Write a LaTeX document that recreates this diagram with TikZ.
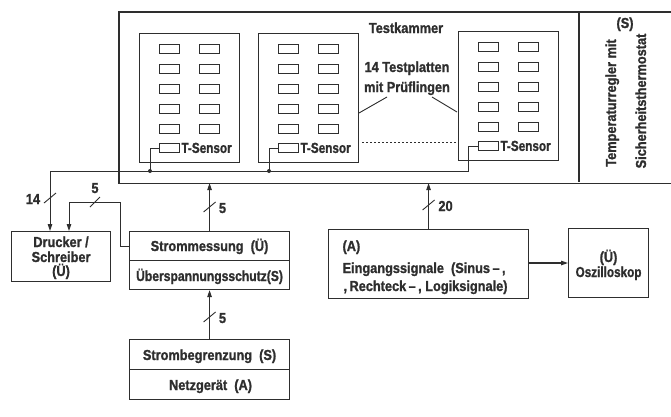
\documentclass[tikz,border=0pt]{standalone}
\usepackage{fontspec}
\setmainfont{Liberation Sans}[FakeStretch=0.88,BoldFeatures={FakeBold=1.2}]
\usetikzlibrary{arrows.meta,calc}
\definecolor{ink}{HTML}{2E2E2E}
\begin{document}
\begin{tikzpicture}[x=1pt,y=-1pt,line width=1.1pt,draw=ink,text=ink,
  box/.style={draw,rectangle,inner sep=0pt,anchor=north west},
  cell/.style={draw,rectangle,inner sep=0pt,anchor=north west,minimum width=20pt,minimum height=9pt,line width=0.9pt},
  lbl/.style={font=\bfseries\fontsize{14.5}{15}\selectfont,inner sep=0pt},
  arr/.style={-{Triangle[length=7pt,width=4.5pt]}},
  slash/.style={line width=0.9pt},
  dot/.style={circle,fill=ink,inner sep=0pt,minimum size=4pt}]
\useasboundingbox[fill=white] (0,0) rectangle (671,416);
% chamber
\node[inner sep=0pt,minimum width=552pt,minimum height=170pt,anchor=north west] (ch) at (119,12) {};
\draw (ch.north east) -- (ch.north west) -- (ch.south west) -- (ch.south east);
\draw (579,12) -- (579,182);
\node[lbl,anchor=base] (tk) at (406,33) {Testkammer};
% boards
\foreach \n/\bx/\by in {1/139/33,2/258/33,3/458/31}{
  \node[box,minimum width=100pt,minimum height=129pt] (b\n) at (\bx,\by) {};
  \foreach \r in {0,...,4}{
    \node[cell] (c\n a\r) at ($(b\n.north west)+(20,11+20*\r)$) {};
    \node[cell] (c\n b\r) at ($(b\n.north west)+(60,11+20*\r)$) {};
  }
  \node[cell] (s\n) at ($(b\n.north west)+(20,110)$) {};
  \node[lbl,anchor=base west] (t\n) at ($(s\n.south east)+(1,0)$) {\scalebox{0.92}[1]{T-Sensor}};
}
\node[lbl,anchor=base] (tp1) at (407,72) {14 Testplatten};
\node[lbl,anchor=base] (tp2) at (407,92) {mit Prüflingen};
\draw[line width=0.9pt] (387,97) -- (359,113);
\draw[line width=0.9pt] (432,97) -- (457,112);
\draw[line width=1pt,dash pattern=on 1.5pt off 2.5pt] (362,142) -- (b3.west |- 0,142);
% temperature controller
\node[lbl,anchor=base] (ts) at (625,28) {(S)};
\node[lbl,anchor=base,rotate=90] (tr1) at (616,103) {Temperaturregler mit};
\node[lbl,anchor=base,rotate=90] (tr2) at (646,101) {Sicherheitsthermostat};
% bottom boxes
\node[box,minimum width=99pt,minimum height=50pt] (dr) at (11,231) {};
\node[lbl,anchor=base,align=center] at ($(dr.north)+(0,16)$) {Drucker /};
\node[lbl,anchor=base] at ($(dr.north)+(0,31)$) {Schreiber};
\node[lbl,anchor=base] at ($(dr.north)+(0,45)$) {(Ü)};
\node[box,minimum width=160pt,minimum height=29pt] (sm) at (129,231) {};
\node[box,minimum width=160pt,minimum height=29pt] (us) at (129,260) {};
\node[lbl,anchor=base] at ($(sm.north)+(0,20)$) {Strommessung~~(Ü)};
\node[lbl,anchor=base] at ($(us.north)+(0,21)$) {\scalebox{0.95}[1]{Überspannungsschutz(S)}};
\node[box,minimum width=160pt,minimum height=30pt] (sb) at (129,339) {};
\node[box,minimum width=160pt,minimum height=30pt] (ng) at (129,369) {};
\node[lbl,anchor=base] at ($(sb.north)+(0,21)$) {Strombegrenzung~~(S)};
\node[lbl,anchor=base] at ($(ng.north)+(1,21)$) {Netzgerät~~(A)};
\node[box,minimum width=200pt,minimum height=69pt] (ein) at (328,229) {};
\node[lbl,anchor=base west] at ($(ein.north west)+(14,22)$) {(A)};
\node[lbl,anchor=base west] at ($(ein.north west)+(14,44)$) {Eingangssignale~~(Sinus\,–\,,};
\node[lbl,anchor=base west] at ($(ein.north west)+(15,62)$) {,\,Rechteck\,–\,,~Logiksignale)};
\node[box,minimum width=80pt,minimum height=69pt] (osz) at (568,228) {};
\node[lbl,anchor=base] at ($(osz.north)+(0,34)$) {(Ü)};
\node[lbl,anchor=base] at ($(osz.north)+(0,49)$) {\scalebox{0.92}[1]{Oszilloskop}};
% bus and sensor wires
\coordinate (busL) at (50,171);
\draw[line width=0.9pt,arr] (s3.west) -- ++(-10,0) coordinate (w3) -- (w3 |- busL) -- (busL) -- (busL |- dr.north);
\foreach \n in {1,2}{
  \draw[line width=0.9pt] (s\n.west) -- ++(-9,0) coordinate (w\n) -- (w\n |- busL) coordinate (j\n);
  \node[dot] at (j\n) {};
}
\draw[slash] (44,203) -- (56,193);
\node[lbl,anchor=base] at (33,204) {14};
% Strommessung to Drucker
\coordinate (k1) at (120,246);
\draw[line width=0.9pt,arr] (sm.west |- k1) -- (k1) -- (120,202) -- (69,202) -- (69,0 |- dr.north);
\draw[slash] (90,207) -- (100,197);
\node[lbl,anchor=base] at (95,193) {5};
% arrows into chamber
\draw[arr] (sm.north) -- (sm.north |- ch.south);
\draw[slash] ($(sm.north)+(-6,-19)$) -- ++(12,-10);
\node[lbl,anchor=base] at ($(sm.north)+(13,-18)$) {5};
\draw[arr] (sb.north) -- (us.south);
\draw[slash] ($(sb.north)+(-6,-17)$) -- ++(12,-10);
\node[lbl,anchor=base] at ($(sb.north)+(13,-16)$) {5};
\draw[arr] (ein.north) -- (ein.north |- ch.south);
\draw[slash] ($(ein.north)+(-6,-19)$) -- ++(12,-10);
\node[lbl,anchor=base] at ($(ein.north)+(17,-18)$) {20};
\draw[arr] (ein.east |- 0,263) -- (osz.west |- 0,263);
\end{tikzpicture}
\end{document}
